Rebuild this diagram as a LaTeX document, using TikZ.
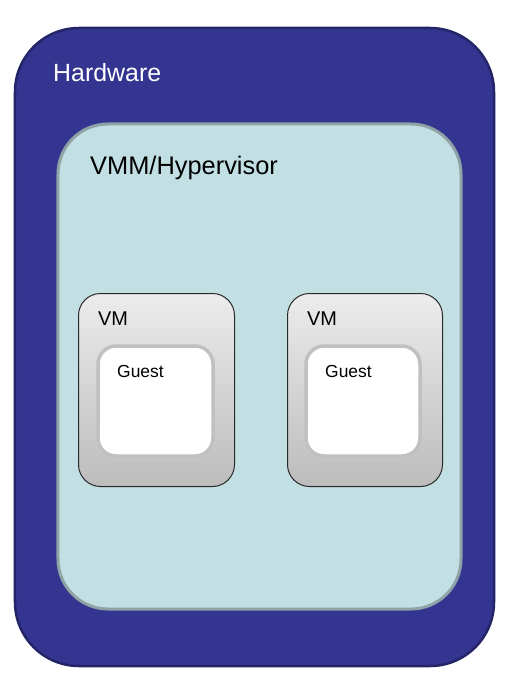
\documentclass[tikz,border=0pt]{standalone}
\usepackage{fontspec}
\setmainfont{Liberation Sans}
\begin{document}
\begin{tikzpicture}[x=1bp,y=-1bp,
  box/.style={rectangle,inner sep=0pt,outer sep=0pt,anchor=center},
  lbl/.style={anchor=base west,inner sep=0pt}]
\definecolor{hwfill}{RGB}{51,53,145}
\definecolor{hwline}{RGB}{36,37,105}
\definecolor{hvfill}{RGB}{194,224,227}
\definecolor{hvline}{RGB}{143,162,165}
\definecolor{vmtop}{RGB}{236,236,236}
\definecolor{vmbot}{RGB}{188,188,188}
\definecolor{vmline}{RGB}{40,40,40}
\definecolor{gline}{RGB}{192,192,192}
\useasboundingbox[fill=white] (0,0) rectangle (510,682);
\node[box,draw=hwline,fill=hwfill,line width=2.5bp,rounded corners=64bp,minimum width=479bp,minimum height=638bp] (hw) at (254.5,347) {};
\node[box,draw=hvline,fill=hvfill,line width=3bp,rounded corners=50bp,minimum width=403bp,minimum height=485bp] (hv) at (259.5,366.5) {};
\node[box,draw=vmline,top color=vmtop,bottom color=vmbot,line width=1bp,rounded corners=22bp,minimum width=156bp,minimum height=193bp] (vm1) at (156.5,390) {};
\node[box,draw=vmline,top color=vmtop,bottom color=vmbot,line width=1bp,rounded corners=22bp,minimum width=155bp,minimum height=193bp] (vm2) at (365,390) {};
\node[box,draw=gline,fill=white,line width=3.5bp,rounded corners=18bp,minimum width=115bp,minimum height=110bp] (g1) at (155.5,401) {};
\node[box,draw=gline,fill=white,line width=3.5bp,rounded corners=18bp,minimum width=114bp,minimum height=110bp] (g2) at (363,401) {};
\node[lbl,text=white,font=\fontsize{25}{25}\selectfont] (hwt) at (53,82) {Hardware};
\node[lbl,font=\fontsize{25.5}{25}\selectfont] (hvt) at (90,174) {VMM/Hypervisor};
\node[lbl,font=\fontsize{20}{20}\selectfont] (vm1t) at (98,325) {VM};
\node[lbl,font=\fontsize{20}{20}\selectfont] (vm2t) at (307,325) {VM};
\node[lbl,font=\fontsize{17.5}{18}\selectfont] (g1t) at (117,377) {Guest};
\node[lbl,font=\fontsize{17.5}{18}\selectfont] (g2t) at (325,377) {Guest};
\end{tikzpicture}
\end{document}
